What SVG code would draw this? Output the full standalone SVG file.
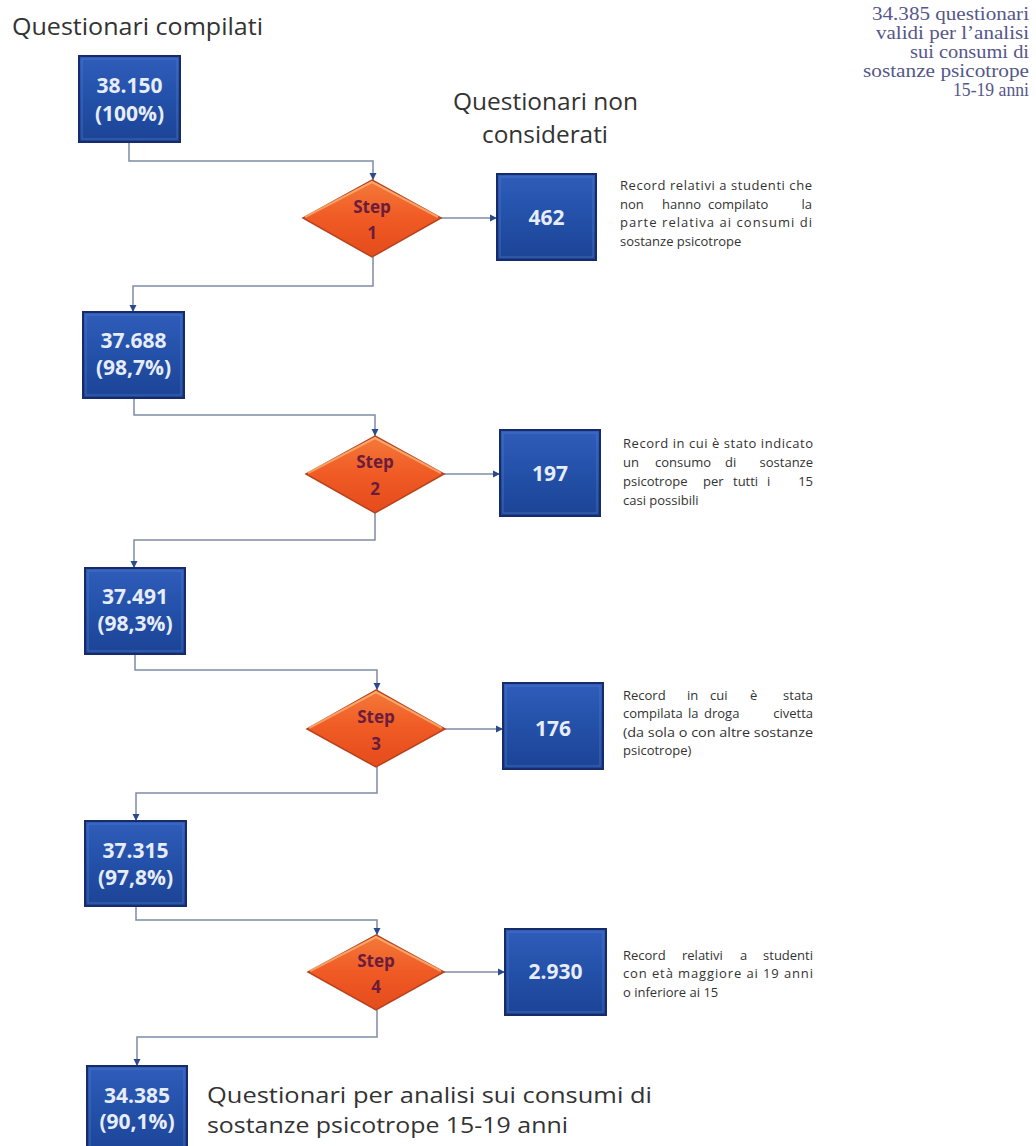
<svg xmlns="http://www.w3.org/2000/svg" width="1036" height="1146" viewBox="0 0 1036 1146">
<defs>
<linearGradient id="bg" x1="0" y1="0" x2="0" y2="1">
<stop offset="0" stop-color="#2f5dba"/><stop offset="0.5" stop-color="#2350a8"/><stop offset="1" stop-color="#1c4496"/>
</linearGradient>
<linearGradient id="dg" x1="0" y1="0" x2="0" y2="1">
<stop offset="0" stop-color="#f47a3a"/><stop offset="0.5" stop-color="#f05a24"/><stop offset="1" stop-color="#e44c1c"/>
</linearGradient>
<marker id="ah" markerWidth="8" markerHeight="8" refX="7" refY="4" orient="auto" markerUnits="userSpaceOnUse">
<path d="M0,0.5 L7,4 L0,7.5 Z" fill="#2b4a8c"/>
</marker>
<style>
.box{fill:url(#bg);stroke:#172b68;stroke-width:2}
.inner{fill:none;stroke:#5b84cf;stroke-width:1;opacity:.55}
.dia{fill:url(#dg);stroke:#b9411c;stroke-width:1.5}
.hl{fill:none;stroke:#fbb478;stroke-width:2;opacity:.8}
.bt{font-family:"Open Sans","Noto Sans",sans-serif;font-weight:bold;font-size:21px;fill:#e6ecf8;text-anchor:middle}
.st{font-family:"Open Sans","Noto Sans",sans-serif;font-weight:bold;font-size:17px;fill:#6a1c3c;text-anchor:middle}
.ttl{font-family:"Open Sans","Noto Sans",sans-serif;font-size:24px;fill:#333333}
.fl{font-family:"Open Sans","Noto Sans",sans-serif;font-size:22px;fill:#333333}
.ds{font-family:"Open Sans","Noto Sans",sans-serif;font-size:13px;fill:#333333}
.dse{font-family:"Open Sans","Noto Sans",sans-serif;font-size:13px;fill:#333333;text-anchor:end}
.tr{font-family:"Liberation Serif",serif;font-size:19px;fill:#55578a;text-anchor:end}
.cn{fill:none;stroke:#7e8ca6;stroke-width:1.5}
</style>
</defs>
<rect width="1036" height="1146" fill="#ffffff"/>

<g id="titles">
<text class="ttl" x="12" y="35" textLength="251" lengthAdjust="spacingAndGlyphs">Questionari compilati</text>
<text class="ttl" x="453" y="110" textLength="185" lengthAdjust="spacingAndGlyphs">Questionari non</text>
<text class="ttl" x="482" y="143" textLength="126" lengthAdjust="spacingAndGlyphs">considerati</text>
</g>

<g id="note-top-right">
<text class="tr" x="1029" y="20" textLength="157" lengthAdjust="spacingAndGlyphs">34.385 questionari</text>
<text class="tr" x="1029" y="39" textLength="153" lengthAdjust="spacingAndGlyphs">validi per l’analisi</text>
<text class="tr" x="1029" y="58" textLength="119" lengthAdjust="spacingAndGlyphs">sui consumi di</text>
<text class="tr" x="1029" y="77" textLength="166" lengthAdjust="spacingAndGlyphs">sostanze psicotrope</text>
<text class="tr" x="1029" y="96" textLength="76" lengthAdjust="spacingAndGlyphs">15-19 anni</text>
</g>

<g id="connectors">
<polyline class="cn" points="129,142 129,161 373,161 373,180" marker-end="url(#ah)"/>
<line class="cn" x1="441" y1="218" x2="497" y2="218" marker-end="url(#ah)"/>
<polyline class="cn" points="373,257 373,286 133,286 133,312" marker-end="url(#ah)"/>
<polyline class="cn" points="134,398 134,415 375,415 375,436" marker-end="url(#ah)"/>
<line class="cn" x1="444" y1="474" x2="500" y2="474" marker-end="url(#ah)"/>
<polyline class="cn" points="375,513 375,540 134,540 134,568" marker-end="url(#ah)"/>
<polyline class="cn" points="135,654 135,670 377,670 377,690" marker-end="url(#ah)"/>
<line class="cn" x1="445" y1="729" x2="503" y2="729" marker-end="url(#ah)"/>
<polyline class="cn" points="377,767 377,793 136,793 136,821" marker-end="url(#ah)"/>
<polyline class="cn" points="136,906 136,920 377,920 377,935" marker-end="url(#ah)"/>
<line class="cn" x1="444" y1="972" x2="505" y2="972" marker-end="url(#ah)"/>
<polyline class="cn" points="377,1010 377,1037 137,1037 137,1066" marker-end="url(#ah)"/>
</g>

<g id="n-38150">
<rect class="box" x="79" y="56" width="101" height="86"/>
<rect class="inner" x="82" y="59" width="95" height="80"/>
<text class="bt" x="129.5" y="93">38.150</text>
<text class="bt" x="129.5" y="121">(100%)</text>
</g>

<g id="n-step1">
<polygon class="dia" points="372,180 441,218 372,257 303,218"/>
<polyline class="hl" points="305,217 372,182 438,217"/>
<text class="st" x="372" y="213">Step</text>
<text class="st" x="372" y="239">1</text>
</g>

<g id="n-462">
<rect class="box" x="497" y="174" width="99" height="86"/>
<rect class="inner" x="500" y="177" width="93" height="80"/>
<text class="bt" x="546.5" y="225">462</text>
</g>

<g id="d-462">
<text class="ds" x="620" y="190" textLength="192" lengthAdjust="spacing">Record relativi a studenti che</text>
<text class="ds" x="620" y="208.5">non</text>
<text class="ds" x="662" y="208.5">hanno</text>
<text class="ds" x="708" y="208.5">compilato</text>
<text class="dse" x="812" y="208.5">la</text>
<text class="ds" x="620" y="227" textLength="192" lengthAdjust="spacing">parte relativa ai consumi di</text>
<text class="ds" x="620" y="245.5">sostanze psicotrope</text>
</g>

<g id="n-37688">
<rect class="box" x="83" y="312" width="101" height="86"/>
<rect class="inner" x="86" y="315" width="95" height="80"/>
<text class="bt" x="133.5" y="348">37.688</text>
<text class="bt" x="133.5" y="375">(98,7%)</text>
</g>

<g id="n-step2">
<polygon class="dia" points="375,436 444,474 375,513 306,474"/>
<polyline class="hl" points="308,473 375,438 441,473"/>
<text class="st" x="375" y="468">Step</text>
<text class="st" x="375" y="495">2</text>
</g>

<g id="n-197">
<rect class="box" x="500" y="430" width="100" height="86"/>
<rect class="inner" x="503" y="433" width="94" height="80"/>
<text class="bt" x="550" y="481">197</text>
</g>

<g id="d-197">
<text class="ds" x="623" y="448" textLength="190" lengthAdjust="spacing">Record in cui è stato indicato</text>
<text class="ds" x="623" y="467">un</text>
<text class="ds" x="655" y="467">consumo</text>
<text class="ds" x="725" y="467">di</text>
<text class="dse" x="813" y="467">sostanze</text>
<text class="ds" x="623" y="486">psicotrope</text>
<text class="ds" x="703" y="486">per</text>
<text class="ds" x="733" y="486">tutti</text>
<text class="ds" x="767" y="486">i</text>
<text class="dse" x="813" y="486">15</text>
<text class="ds" x="623" y="505">casi possibili</text>
</g>

<g id="n-37491">
<rect class="box" x="85" y="568" width="100" height="86"/>
<rect class="inner" x="88" y="571" width="94" height="80"/>
<text class="bt" x="135" y="604">37.491</text>
<text class="bt" x="135" y="631">(98,3%)</text>
</g>

<g id="n-step3">
<polygon class="dia" points="376,690 445,729 376,767 307,729"/>
<polyline class="hl" points="309,728 376,692 442,728"/>
<text class="st" x="376" y="723">Step</text>
<text class="st" x="376" y="750">3</text>
</g>

<g id="n-176">
<rect class="box" x="503" y="683" width="100" height="86"/>
<rect class="inner" x="506" y="686" width="94" height="80"/>
<text class="bt" x="553" y="736">176</text>
</g>

<g id="d-176">
<text class="ds" x="623" y="700">Record</text>
<text class="ds" x="687" y="700">in</text>
<text class="ds" x="710" y="700">cui</text>
<text class="ds" x="750" y="700">è</text>
<text class="dse" x="813" y="700">stata</text>
<text class="ds" x="623" y="718">compilata</text>
<text class="ds" x="688" y="718">la</text>
<text class="ds" x="704" y="718">droga</text>
<text class="dse" x="813" y="718">civetta</text>
<text class="ds" x="623" y="737" textLength="190" lengthAdjust="spacingAndGlyphs">(da sola o con altre sostanze</text>
<text class="ds" x="623" y="755">psicotrope)</text>
</g>

<g id="n-37315">
<rect class="box" x="85" y="821" width="101" height="85"/>
<rect class="inner" x="88" y="824" width="95" height="79"/>
<text class="bt" x="135.5" y="858">37.315</text>
<text class="bt" x="135.5" y="885">(97,8%)</text>
</g>

<g id="n-step4">
<polygon class="dia" points="376,935 444,972 376,1010 308,972"/>
<polyline class="hl" points="310,971 376,937 441,971"/>
<text class="st" x="376" y="967">Step</text>
<text class="st" x="376" y="993">4</text>
</g>

<g id="n-2930">
<rect class="box" x="505" y="929" width="101" height="86"/>
<rect class="inner" x="508" y="932" width="95" height="80"/>
<text class="bt" x="555.5" y="979">2.930</text>
</g>

<g id="d-2930">
<text class="ds" x="623" y="960">Record</text>
<text class="ds" x="682" y="960">relativi</text>
<text class="ds" x="740" y="960">a</text>
<text class="dse" x="813" y="960">studenti</text>
<text class="ds" x="623" y="978" textLength="190" lengthAdjust="spacing">con età  maggiore ai 19 anni</text>
<text class="ds" x="623" y="997">o inferiore ai 15</text>
</g>

<g id="n-34385">
<rect class="box" x="87" y="1066" width="100" height="90"/>
<rect class="inner" x="90" y="1069" width="94" height="84"/>
<text class="bt" x="137" y="1103">34.385</text>
<text class="bt" x="137" y="1129">(90,1%)</text>
</g>

<g id="final-label">
<text class="fl" x="207" y="1103" textLength="445" lengthAdjust="spacingAndGlyphs">Questionari per analisi sui consumi di</text>
<text class="fl" x="207" y="1133" textLength="361" lengthAdjust="spacingAndGlyphs">sostanze psicotrope 15-19 anni</text>
</g>
</svg>
